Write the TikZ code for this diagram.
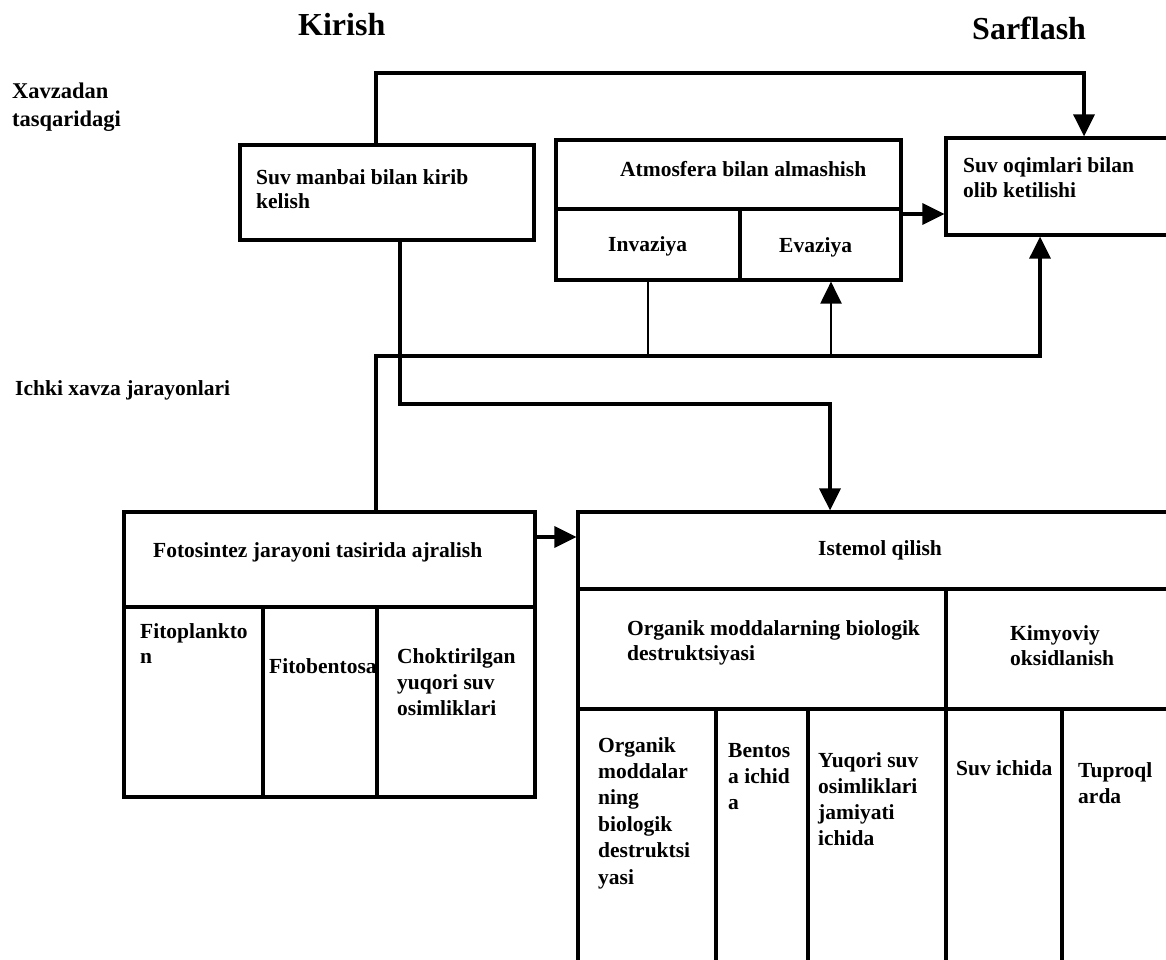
\documentclass[tikz,border=0pt]{standalone}
\usepackage{fontspec}
\setmainfont{Liberation Serif}
\usetikzlibrary{arrows.meta}
\newcommand\mltext[1]{\begin{tabular}[t]{@{}l@{}}#1\end{tabular}}
\begin{document}
\begin{tikzpicture}[x=1pt,y=-1pt,
  cell/.style={draw, line width=3.2pt, rectangle, inner sep=0pt},
  corners/.style n args={4}{minimum width={#3-#1}, minimum height={#4-#2}, at={({(#1+#3)/2},{(#2+#4)/2})}},
  txt/.style={inner sep=0pt, font=\fontsize{21.5}{26}\selectfont\bfseries, anchor=base west},
  lead/.style={font=\fontsize{21.5}{#1}\selectfont\bfseries},
  title/.style={font=\fontsize{32}{36}\selectfont\bfseries},
  conn/.style={line width=3.2pt},
  thinconn/.style={line width=2.2pt},
  arr/.style={-{Triangle[length=22pt,width=21pt]}},
]
\useasboundingbox (0,0) rectangle (1166,960);
\clip (0,0) rectangle (1166,960);

% boxes
\node[cell, corners={240}{145}{534}{240}] (manbai) {};
\node[cell, corners={556}{140}{901}{209}] (atm) {};
\node[cell, corners={556}{209}{740}{280}] (inv) {};
\node[cell, corners={740}{209}{901}{280}] (evaz) {};
\node[cell, corners={946}{138}{1180}{235}] (oqim) {};
\node[cell, corners={124}{512}{535}{607}] (foto) {};
\node[cell, corners={124}{607}{263}{797}] (fito1) {};
\node[cell, corners={263}{607}{377}{797}] (fito2) {};
\node[cell, corners={377}{607}{535}{797}] (fito3) {};
\node[cell, corners={578}{512}{1180}{589}] (ist) {};
\node[cell, corners={578}{589}{946}{709}] (org) {};
\node[cell, corners={946}{589}{1180}{709}] (kim) {};
\node[cell, corners={578}{709}{716}{980}] (c1) {};
\node[cell, corners={716}{709}{808}{980}] (c2) {};
\node[cell, corners={808}{709}{946}{980}] (c3) {};
\node[cell, corners={946}{709}{1062}{980}] (c4) {};
\node[cell, corners={1062}{709}{1180}{980}] (c5) {};

% texts
\node[txt, title] (tkirish) at (298,36) {Kirish};
\node[txt, title] (tsarf) at (972,40) {Sarflash};
\node[txt, font=\fontsize{22.5}{28}\selectfont\bfseries] (txavz) at (12,99) {\mltext{Xavzadan\\tasqaridagi}};
\node[txt] (tichki) at (15,395) {Ichki xavza jarayonlari};
\node[txt, lead=23.5] (tmanbai) at (256,185) {\mltext{Suv manbai bilan kirib\\kelish}};
\node[txt] (tatm) at (620,177) {Atmosfera bilan almashish};
\node[txt] (tinv) at (608,251) {Invaziya};
\node[txt] (tevaz) at (779,252) {Evaziya};
\node[txt, lead=24.5] (toqim) at (963,173) {\mltext{Suv oqimlari bilan\\olib ketilishi}};
\node[txt] (tfoto) at (153,557) {Fotosintez jarayoni tasirida ajralish};
\node[txt, lead=25] (tfito1) at (140,638) {\mltext{Fitoplankto\\n}};
\node[txt] (tfito2) at (269,673) {Fitobentosa};
\node[txt] (tfito3) at (397,663) {\mltext{Choktirilgan\\yuqori suv\\osimliklari}};
\node[txt] (tist) at (818,555) {Istemol qilish};
\node[txt, lead=25] (torg) at (627,635) {\mltext{Organik moddalarning biologik\\destruktsiyasi}};
\node[txt, lead=25] (tkim) at (1010,640) {\mltext{Kimyoviy\\oksidlanish}};
\node[txt, lead=26.4] (tc1) at (598,752) {\mltext{Organik\\moddalar\\ning\\biologik\\destruktsi\\yasi}};
\node[txt] (tc2) at (728,757) {\mltext{Bentos\\a ichid\\a}};
\node[txt] (tc3) at (818,767) {\mltext{Yuqori suv\\osimliklari\\jamiyati\\ichida}};
\node[txt] (tc4) at (956,775) {Suv ichida};
\node[txt, lead=26] (tc5) at (1078,777) {\mltext{Tuproql\\arda}};

% connectors
\coordinate (p1) at (376,73);
\coordinate (p2) at (1084,73);
\draw[conn, arr] (manbai.north -| p1) -- (p1) -- (p2) -- (oqim.north -| p2);

\coordinate (p3) at (901,214);
\draw[conn, arr] (evaz.east |- p3) -- (oqim.west |- p3);

\coordinate (h1) at (376,356);
\coordinate (h2) at (1040,356);
\draw[conn, arr] (foto.north -| h1) -- (h1) -- (h2) -- (oqim.south -| h2);

\draw[thinconn] (inv.south) -- (inv.south |- h1);
\coordinate (q) at (831,356);
\draw[thinconn, arr] (q) -- (evaz.south -| q);

\coordinate (v1) at (400,404);
\coordinate (v2) at (830,404);
\draw[conn, arr] (manbai.south -| v1) -- (v1) -- (v2) -- (ist.north -| v2);

\coordinate (r) at (535,537);
\draw[conn, arr] (foto.east |- r) -- (ist.west |- r);
\end{tikzpicture}
\end{document}
